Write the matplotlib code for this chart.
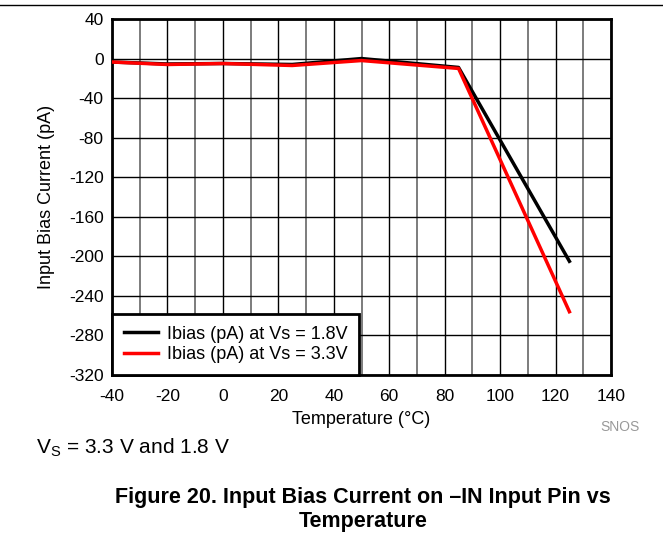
import matplotlib.pyplot as plt
import numpy as np

plt.rcParams['font.family'] = ['Liberation Sans', 'DejaVu Sans']
plt.rcParams['axes.unicode_minus'] = False

temp = [-40, -20, 0, 25, 50, 85, 125]
ibias_18 = [-3.5, -5.5, -5, -6, 0, -9, -205]
ibias_33 = [-3.5, -6, -5, -7, -2, -10, -256]

fig = plt.figure(figsize=(6.63, 5.39), dpi=100)
ax = fig.add_axes([112 / 663, 1 - 375 / 539, 499 / 663, 356 / 539])

ax.plot(temp, ibias_18, color='black', lw=2.5, label='Ibias (pA) at Vs = 1.8V', zorder=3)
ax.plot(temp, ibias_33, color='red', lw=2.5, label='Ibias (pA) at Vs = 3.3V', zorder=4)

ax.set_xlim(-40, 140)
ax.set_ylim(-320, 40)
ax.set_xticks(np.arange(-40, 141, 20))
ax.set_xticks(np.arange(-30, 140, 20), minor=True)
ax.set_yticks(np.arange(-320, 41, 40))
ax.grid(which='major', color='black', lw=1)
ax.grid(which='minor', axis='x', color='#666666', lw=1.2)
ax.tick_params(which='both', length=0, labelsize=12.5)
ax.tick_params(axis='x', pad=10)
ax.tick_params(axis='y', pad=6)
for s in ax.spines.values():
    s.set_linewidth(2)
ax.set_xlabel('Temperature (°C)', fontsize=13, labelpad=5)
ax.set_ylabel('Input Bias Current (pA)', fontsize=13, labelpad=10)

leg = ax.legend(loc='lower left', fontsize=13, frameon=True, fancybox=False,
                borderaxespad=0, handlelength=1.9, handletextpad=0.5,
                borderpad=0.65, labelspacing=0.2)
leg.get_frame().set_edgecolor('black')
leg.get_frame().set_linewidth(2)
leg.get_frame().set_alpha(1)

fig.add_artist(plt.Line2D([0, 1], [1 - 5 / 539, 1 - 5 / 539], color='black', lw=1))
fig.text(620 / 663, 1 - 427 / 539, 'SNOS', color='#999999', fontsize=10, ha='center', va='center')
fig.text(36 / 663, 1 - 448 / 539, r'V$_\mathregular{S}$ = 3.3 V and 1.8 V', fontsize=15, ha='left', va='center')
fig.text(363 / 663, 1 - 497 / 539, 'Figure 20. Input Bias Current on \u2013IN Input Pin vs',
         fontsize=15.5, fontweight='bold', ha='center', va='center')
fig.text(363 / 663, 1 - 522 / 539, 'Temperature',
         fontsize=15.5, fontweight='bold', ha='center', va='center')

fig.savefig('out.png', dpi=100)
